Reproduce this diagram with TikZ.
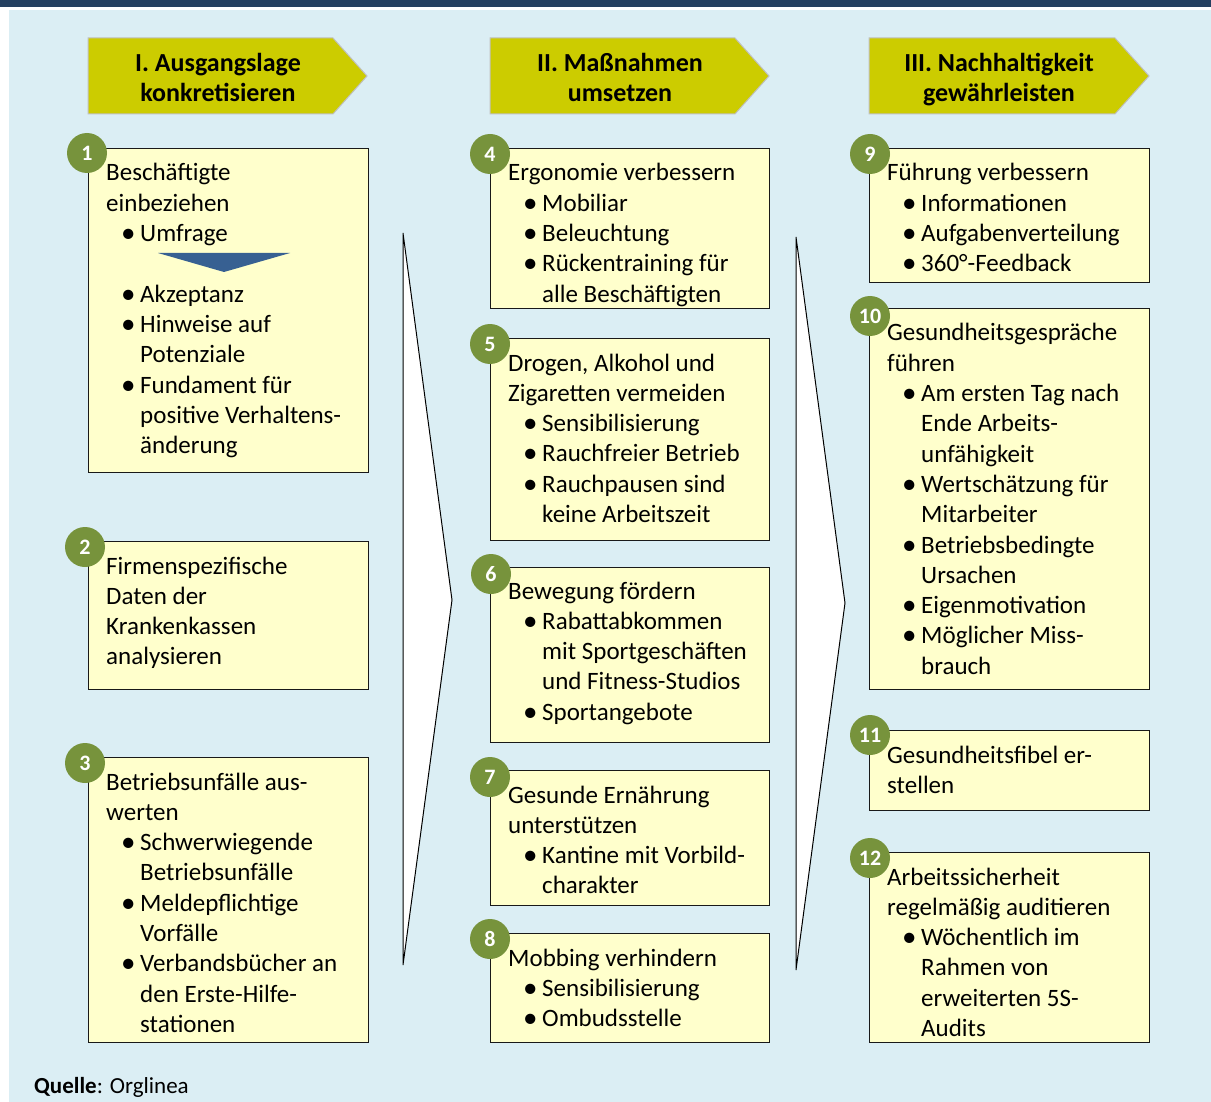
\documentclass[tikz,border=0pt]{standalone}
\usepackage{fontspec}
\setmainfont{Carlito}
\definecolor{bgblue}{HTML}{DBEEF4}
\definecolor{topbar}{HTML}{243F60}
\definecolor{hdrfill}{HTML}{CCCC00}
\definecolor{hdrline}{HTML}{C0C0C0}
\definecolor{boxfill}{HTML}{FFFFCC}
\definecolor{numfill}{HTML}{77933C}
\definecolor{tri}{HTML}{376092}
\newcommand\bu[1]{\hspace*{15pt}\makebox[19pt][l]{\raisebox{-1pt}{\fontsize{29}{29}\selectfont\textbullet}}#1}
\newcommand\ct[1]{\hspace*{34pt}#1}
\newcommand\boxtext[1]{\parbox[t]{300pt}{\fontsize{25}{30.3}\selectfont\raggedright #1}}
\tikzset{
  panel/.style={draw=black!90, line width=1.4pt, fill=boxfill, anchor=north west, inner sep=0pt, minimum width=280pt},
  num/.style={circle, fill=numfill, text=white, font=\fontsize{22}{24}\selectfont\bfseries, minimum size=40pt, inner sep=0pt},
  txt/.style={anchor=base west, inner sep=0pt},
  hdr/.style={draw=hdrline, line width=1pt, fill=hdrfill},
  hdrtext/.style={align=center, font=\fontsize{26}{30}\selectfont\bfseries, inner sep=0pt},
  bigarrow/.style={draw=black, line width=1pt, fill=white},
}
\begin{document}
\begin{tikzpicture}[x=1pt,y=-1pt]
\useasboundingbox (0,0) rectangle (1211,1102);
\fill[white] (0,0) rectangle (1211,1102);
\fill[topbar] (0,0) rectangle (1211,7);
\fill[bgblue] (9,10) rectangle (1211,1102);

% headers
\draw[hdr] (88,38) -- (333,38) -- (367,76) -- (333,114) -- (88,114) -- cycle;
\node[hdrtext] (h1) at (218,77) {I. Ausgangslage\\konkretisieren};
\draw[hdr] (490,38) -- (735,38) -- (769,76) -- (735,114) -- (490,114) -- cycle;
\node[hdrtext] (h2) at (620,77) {II. Maßnahmen\\umsetzen};
\draw[hdr] (869,38) -- (1115,38) -- (1149,76) -- (1115,114) -- (869,114) -- cycle;
\node[hdrtext] (h3) at (999,80) {III. Nachhaltigkeit\\gewährleisten};

% big arrows
\draw[bigarrow] (403,233) -- (452,600) -- (403,965) -- cycle;
\draw[bigarrow] (796,237) -- (845,603) -- (796,970) -- cycle;

% column 1
\node[panel, minimum height=324pt] (b1) at (88,148) {};
\node[txt] (t1) at (106,181) {\boxtext{Beschäftigte\\einbeziehen\\\bu{Umfrage}\\\mbox{}\\\bu{Akzeptanz}\\\bu{Hinweise auf}\\\ct{Potenziale}\\\bu{Fundament für}\\\ct{positive Verhaltens-}\\\ct{änderung}}};
\fill[tri] (158,253) -- (290,253) -- (224,272) -- cycle;
\node[num] (n1) at (87,153) {1};

\node[panel, minimum height=148pt] (b2) at (88,541) {};
\node[txt] (t2) at (106,574) {\boxtext{Firmenspezifische\\Daten der\\Krankenkassen\\analysieren}};
\node[num] (n2) at (85,547) {2};

\node[panel, minimum height=285pt] (b3) at (88,757) {};
\node[txt] (t3) at (106,790) {\boxtext{Betriebsunfälle aus-\\werten\\\bu{Schwerwiegende}\\\ct{Betriebsunfälle}\\\bu{Meldepflichtige}\\\ct{Vorfälle}\\\bu{Verbandsbücher an}\\\ct{den Erste-Hilfe-}\\\ct{stationen}}};
\node[num] (n3) at (85,763) {3};

% column 2
\node[panel, minimum width=279pt, minimum height=160pt] (b4) at (490,148) {};
\node[txt] (t4) at (508,181) {\boxtext{Ergonomie verbessern\\\bu{Mobiliar}\\\bu{Beleuchtung}\\\bu{Rückentraining für}\\\ct{alle Beschäftigten}}};
\node[num] (n4) at (490,154) {4};

\node[panel, minimum width=279pt, minimum height=202pt] (b5) at (490,338) {};
\node[txt] (t5) at (508,371) {\boxtext{Drogen, Alkohol und\\Zigaretten vermeiden\\\bu{Sensibilisierung}\\\bu{Rauchfreier Betrieb}\\\bu{Rauchpausen sind}\\\ct{keine Arbeitszeit}}};
\node[num] (n5) at (490,344) {5};

\node[panel, minimum width=279pt, minimum height=175pt] (b6) at (490,567) {};
\node[txt] (t6) at (508,599) {\boxtext{Bewegung fördern\\\bu{Rabattabkommen}\\\ct{mit Sportgeschäften}\\\ct{und Fitness-Studios}\\\bu{Sportangebote}}};
\node[num] (n6) at (491,574) {6};

\node[panel, minimum width=279pt, minimum height=135pt] (b7) at (490,770) {};
\node[txt] (t7) at (508,803) {\boxtext{Gesunde Ernährung\\unterstützen\\\bu{Kantine mit Vorbild-}\\\ct{charakter}}};
\node[num] (n7) at (490,777) {7};

\node[panel, minimum width=279pt, minimum height=109pt] (b8) at (490,933) {};
\node[txt] (t8) at (508,966) {\boxtext{Mobbing verhindern\\\bu{Sensibilisierung}\\\bu{Ombudsstelle}}};
\node[num] (n8) at (490,939) {8};

% column 3
\node[panel, minimum height=134pt] (b9) at (869,148) {};
\node[txt] (t9) at (887,181) {\boxtext{Führung verbessern\\\bu{Informationen}\\\bu{Aufgabenverteilung}\\\bu{360°-Feedback}}};
\node[num] (n9) at (870,154) {9};

\node[panel, minimum height=381pt] (b10) at (869,308) {};
\node[txt] (t10) at (887,341) {\boxtext{Gesundheitsgespräche\\führen\\\bu{Am ersten Tag nach}\\\ct{Ende Arbeits-}\\\ct{unfähigkeit}\\\bu{Wertschätzung für}\\\ct{Mitarbeiter}\\\bu{Betriebsbedingte}\\\ct{Ursachen}\\\bu{Eigenmotivation}\\\bu{Möglicher Miss-}\\\ct{brauch}}};
\node[num] (n10) at (870,316) {10};

\node[panel, minimum height=80pt] (b11) at (869,730) {};
\node[txt] (t11) at (887,763) {\boxtext{Gesundheitsfibel er-\\stellen}};
\node[num] (n11) at (870,735) {11};

\node[panel, minimum height=190pt] (b12) at (869,852) {};
\node[txt] (t12) at (887,885) {\boxtext{Arbeitssicherheit\\regelmäßig auditieren\\\bu{Wöchentlich im}\\\ct{Rahmen von}\\\ct{erweiterten 5S-}\\\ct{Audits}}};
\node[num] (n12) at (870,858) {12};

\node[anchor=base west, inner sep=0pt, font=\fontsize{23}{26}\selectfont] (src) at (34,1093) {\textbf{Quelle}: Orglinea};
\end{tikzpicture}
\end{document}
